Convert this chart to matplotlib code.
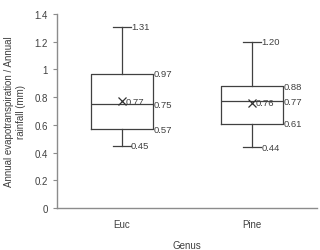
import matplotlib
matplotlib.use("Agg")
import matplotlib.pyplot as plt

# values
genus = ["Euc", "Pine"]
whisker_lo = [0.45, 0.44]
q1 = [0.57, 0.61]
median = [0.75, 0.77]
q3 = [0.97, 0.88]
whisker_hi = [1.31, 1.20]
mean = [0.77, 0.76]

plt.rcParams['font.family'] = ['Liberation Sans', 'DejaVu Sans']
txt = '#404040'
grey = '#8c8c8c'

fig = plt.figure(figsize=(3.2, 2.51), dpi=100)
ax = fig.add_axes([0.178, 0.167, 0.813, 0.773])

stats = []
for i, g in enumerate(genus):
    stats.append({'label': g, 'whislo': whisker_lo[i], 'q1': q1[i], 'med': median[i],
                  'q3': q3[i], 'whishi': whisker_hi[i], 'mean': mean[i], 'fliers': []})

pos = [1, 2]
bw = 0.48
line = dict(color='#404040', linewidth=0.9)
ax.bxp(stats, positions=pos, widths=bw, showmeans=True, capwidths=0.14,
       boxprops=line, whiskerprops=line, capprops=line,
       medianprops=dict(color='#404040', linewidth=0.9),
       meanprops=dict(marker='x', markeredgecolor='#303030', markersize=6, markeredgewidth=0.9))

fs = 6.8
for i, p in enumerate(pos):
    ax.text(p + 0.07, whisker_hi[i], "%.2f" % whisker_hi[i], va='center', ha='left', fontsize=fs, color=txt)
    ax.text(p + 0.07, whisker_lo[i], "%.2f" % whisker_lo[i], va='center', ha='left', fontsize=fs, color=txt)
    for v in (q3[i], median[i], q1[i]):
        ax.text(p + bw / 2, v, "%.2f" % v, va='center', ha='left', fontsize=fs, color=txt)
    ax.text(p + 0.03, mean[i], "%.2f" % mean[i], va='center', ha='left', fontsize=fs, color=txt)

ax.set_xlim(0.5, 2.5)
ax.set_ylim(0, 1.4)
ax.set_yticks([0, 0.2, 0.4, 0.6, 0.8, 1.0, 1.2, 1.4])
ax.set_yticklabels(["0", "0.2", "0.4", "0.6", "0.8", "1", "1.2", "1.4"])
ax.tick_params(axis='y', colors=grey, labelcolor=txt, labelsize=7, length=3, width=0.8)
ax.tick_params(axis='x', length=0, labelcolor=txt, labelsize=7, pad=8)

for s in ['top', 'right']:
    ax.spines[s].set_visible(False)
for s in ['left', 'bottom']:
    ax.spines[s].set_color(grey)
    ax.spines[s].set_linewidth(1.0)

ax.set_ylabel("Annual evapotranspiration / Annual\nrainfall (mm)", fontsize=7, color=txt, labelpad=6)
ax.set_xlabel("Genus", fontsize=7, color=txt, labelpad=8)

fig.savefig("out.png", dpi=100)
